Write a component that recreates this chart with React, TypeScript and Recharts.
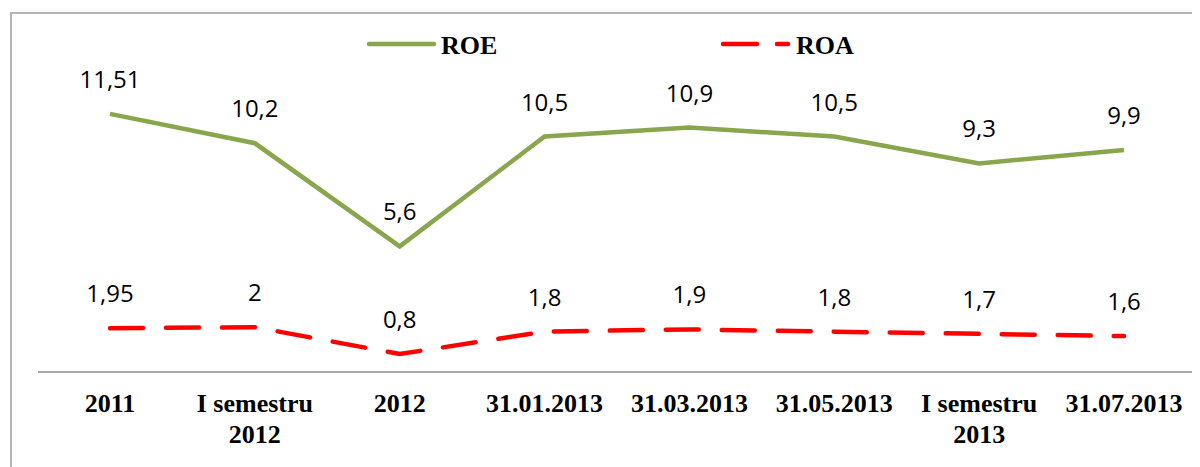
import React from "react";
import { LineChart, Line, XAxis, YAxis, Legend, LabelList } from "recharts";

// categorii (\n = rand nou in eticheta)
const categories = [
  "2011",
  "I semestru\n2012",
  "2012",
  "31.01.2013",
  "31.03.2013",
  "31.05.2013",
  "I semestru\n2013",
  "31.07.2013",
];
const roe = [11.51, 10.2, 5.6, 10.5, 10.9, 10.5, 9.3, 9.9];
const roa = [1.95, 2, 0.8, 1.8, 1.9, 1.8, 1.7, 1.6];

const data = categories.map((name, i) => ({ name, ROE: roe[i], ROA: roa[i] }));

const GREEN = "#88a64b";
const RED = "#ff0000";
const SERIF = "'Liberation Serif', 'Times New Roman', serif";
const SANS = "'Open Sans', 'Noto Sans', sans-serif";

const CategoryTick = (props: any) => {
  const { x, y, payload } = props;
  const lines = String(payload.value).split("\n");
  return (
    <text
      x={x}
      y={y + 40}
      textAnchor="middle"
      fontFamily={SERIF}
      fontWeight="bold"
      fontSize={26}
      fill="#000"
    >
      {lines.map((l, i) => (
        <tspan key={i} x={x} dy={i === 0 ? 0 : 31}>
          {l}
        </tspan>
      ))}
    </text>
  );
};

const ValueLabel = (props: any) => {
  const { x, y, value } = props;
  return (
    <text x={x} y={y - 26} textAnchor="middle" fontFamily={SANS} fontSize={24} fill="#000">
      {String(value).replace(".", ",")}
    </text>
  );
};

const TopLegend = () => (
  <svg width={1188} height={60} style={{ display: "block" }}>
    <line x1={357} y1={30} x2={422} y2={30} stroke={GREEN} strokeWidth={4.5} strokeLinecap="round" />
    <text x={429} y={40} fontFamily={SERIF} fontWeight="bold" fontSize={26} fill="#000">
      ROE
    </text>
    <line
      x1={711}
      y1={30}
      x2={776}
      y2={30}
      stroke={RED}
      strokeWidth={4.5}
      strokeLinecap="round"
      strokeDasharray="34 20"
    />
    <text x={784} y={40} fontFamily={SERIF} fontWeight="bold" fontSize={26} fill="#000">
      ROA
    </text>
  </svg>
);

export default function App() {
  return (
    <div
      style={{
        marginLeft: 2,
        marginTop: 4,
        width: 1188,
        height: 455,
        borderLeft: "2px solid #b4b4b4",
        borderTop: "2px solid #b4b4b4",
        background: "#fff",
        overflow: "hidden",
      }}
    >
      <LineChart
        width={1188}
        height={455}
        data={data}
        margin={{ top: 44, right: 4, left: 26, bottom: 17 }}
      >
        <XAxis
          dataKey="name"
          height={80}
          padding={{ left: 72, right: 72 }}
          axisLine={{ stroke: "#8c8c8c", strokeWidth: 1.5 }}
          tickLine={false}
          tickSize={0}
          tickMargin={0}
          interval={0}
          tick={<CategoryTick />}
        />
        <YAxis hide domain={[0, 14]} />
        <Legend
          verticalAlign="middle"
          wrapperStyle={{ top: 0, left: 0, width: 1188 }}
          content={() => <TopLegend />}
        />
        <Line
          dataKey="ROE"
          stroke={GREEN}
          strokeWidth={4.5}
          dot={false}
          activeDot={false}
          isAnimationActive={false}
        >
          <LabelList dataKey="ROE" content={<ValueLabel />} />
        </Line>
        <Line
          dataKey="ROA"
          stroke={RED}
          strokeWidth={4.5}
          strokeDasharray="33 23"
          strokeLinecap="round"
          dot={false}
          activeDot={false}
          isAnimationActive={false}
        >
          <LabelList dataKey="ROA" content={<ValueLabel />} />
        </Line>
      </LineChart>
    </div>
  );
}
